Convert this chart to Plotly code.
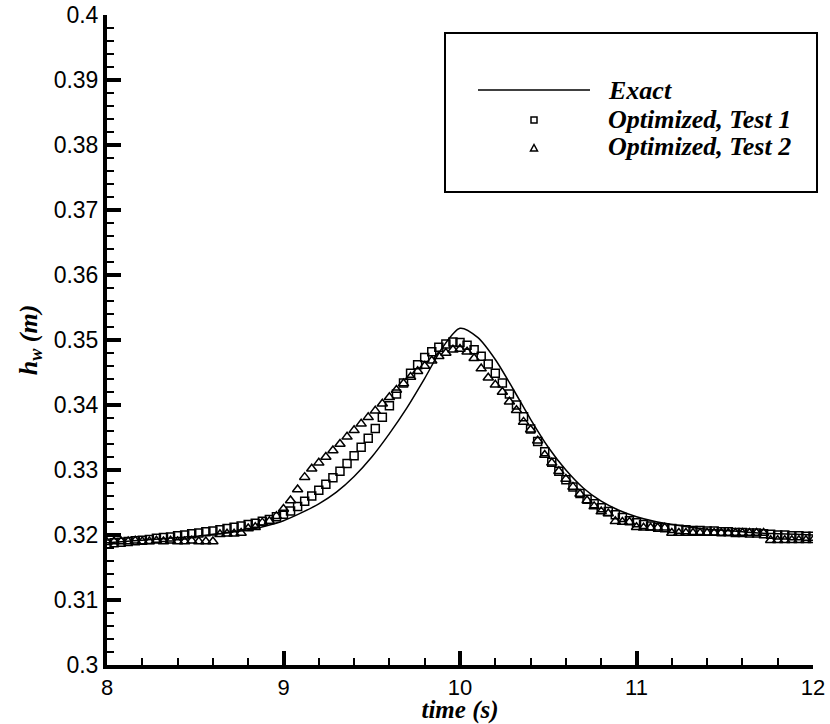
import plotly.graph_objects as go

# ---- data ----
exact_t = [8.0, 8.1, 8.2, 8.3, 8.4, 8.5, 8.6, 8.7, 8.8, 8.9,
           9.0, 9.1, 9.2, 9.3, 9.4, 9.5, 9.6, 9.7, 9.8, 9.9,
           10.0, 10.1, 10.2, 10.3, 10.4, 10.5, 10.6, 10.7, 10.8, 10.9,
           11.0, 11.1, 11.2, 11.3, 11.4, 11.5, 11.6, 11.7, 11.8, 11.9, 12.0]
exact_h = [0.3188, 0.3190, 0.3192, 0.3194, 0.3196, 0.3198, 0.3201, 0.3204, 0.3208, 0.3214,
           0.3222, 0.3234, 0.3248, 0.3266, 0.3290, 0.3320, 0.3356, 0.3396, 0.3441, 0.3488,
           0.3518, 0.3504, 0.3470, 0.3425, 0.3378, 0.3335, 0.3300, 0.3272, 0.3252, 0.3238,
           0.3228, 0.3221, 0.3216, 0.3212, 0.3209, 0.3207, 0.3205, 0.3203, 0.3202, 0.3201, 0.3200]

sample_t = [8.00, 8.04, 8.08, 8.12, 8.16, 8.20, 8.24, 8.28, 8.32, 8.36,
            8.40, 8.44, 8.48, 8.52, 8.56, 8.60, 8.64, 8.68, 8.72, 8.76,
            8.80, 8.84, 8.88, 8.92, 8.96, 9.00, 9.04, 9.08, 9.12, 9.16,
            9.20, 9.24, 9.28, 9.32, 9.36, 9.40, 9.44, 9.48, 9.52, 9.56,
            9.60, 9.64, 9.68, 9.72, 9.76, 9.80, 9.84, 9.88, 9.92, 9.96,
            10.00, 10.04, 10.08, 10.12, 10.16, 10.20, 10.24, 10.28, 10.32, 10.36,
            10.40, 10.44, 10.48, 10.52, 10.56, 10.60, 10.64, 10.68, 10.72, 10.76,
            10.80, 10.84, 10.88, 10.92, 10.96, 11.00, 11.04, 11.08, 11.12, 11.16,
            11.20, 11.24, 11.28, 11.32, 11.36, 11.40, 11.44, 11.48, 11.52, 11.56,
            11.60, 11.64, 11.68, 11.72, 11.76, 11.80, 11.84, 11.88, 11.92, 11.96, 12.00]

test1_h = [0.3186, 0.3188, 0.3189, 0.3190, 0.3191, 0.3192, 0.3193, 0.3195, 0.3196, 0.3197,
           0.3199, 0.3200, 0.3202, 0.3203, 0.3205, 0.3206, 0.3208, 0.3210, 0.3212, 0.3214,
           0.3216, 0.3218, 0.3221, 0.3224, 0.3228, 0.3232, 0.3237, 0.3244, 0.3252, 0.3260,
           0.3269, 0.3278, 0.3288, 0.3298, 0.3310, 0.3322, 0.3335, 0.3349, 0.3364, 0.3381,
           0.3399, 0.3417, 0.3434, 0.3449, 0.3462, 0.3473, 0.3482, 0.3489, 0.3494, 0.3497,
           0.3496, 0.3492, 0.3485, 0.3475, 0.3463, 0.3449, 0.3434, 0.3417, 0.3400, 0.3382,
           0.3363, 0.3344, 0.3328, 0.3312, 0.3298, 0.3285, 0.3274, 0.3264, 0.3255, 0.3248,
           0.3242, 0.3236, 0.3231, 0.3227, 0.3222, 0.3219, 0.3216, 0.3214, 0.3212, 0.3211,
           0.3210, 0.3209, 0.3208, 0.3207, 0.3207, 0.3206, 0.3206, 0.3205, 0.3205, 0.3204,
           0.3204, 0.3203, 0.3203, 0.3202, 0.3201, 0.3200, 0.3200, 0.3199, 0.3199, 0.3198, 0.3198]

test2_h = [0.3189, 0.3190, 0.3190, 0.3190, 0.3191, 0.3190, 0.3190, 0.3191, 0.3190, 0.3191,
           0.3190, 0.3190, 0.3191, 0.3190, 0.3190, 0.3190, 0.3201, 0.3202, 0.3202, 0.3203,
           0.3210, 0.3212, 0.3219, 0.3221, 0.3229, 0.3240, 0.3253, 0.3270, 0.3289, 0.3302,
           0.3311, 0.3320, 0.3330, 0.3340, 0.3351, 0.3361, 0.3371, 0.3381, 0.3391, 0.3402,
           0.3412, 0.3423, 0.3433, 0.3443, 0.3452, 0.3460, 0.3468, 0.3475, 0.3480, 0.3485,
           0.3486, 0.3482, 0.3472, 0.3456, 0.3442, 0.3431, 0.3420, 0.3405, 0.3392, 0.3374,
           0.3362, 0.3345, 0.3323, 0.3311, 0.3298, 0.3286, 0.3274, 0.3263, 0.3253, 0.3244,
           0.3236, 0.3233, 0.3221, 0.3220, 0.3220, 0.3212, 0.3211, 0.3211, 0.3211, 0.3211,
           0.3203, 0.3203, 0.3203, 0.3203, 0.3203, 0.3203, 0.3203, 0.3203, 0.3203, 0.3203,
           0.3203, 0.3203, 0.3203, 0.3203, 0.3192, 0.3192, 0.3192, 0.3192, 0.3192, 0.3192, 0.3192]

series_names = ["Exact", "Optimized, Test 1", "Optimized, Test 2"]
x_ticks = [8, 9, 10, 11, 12]
y_ticks = [0.3, 0.31, 0.32, 0.33, 0.34, 0.35, 0.36, 0.37, 0.38, 0.39, 0.4]

# ---- figure ----
W, H = 830, 724
ML, MR, MT, MB = 107, 17, 15, 59
SERIF = "Liberation Serif, Times New Roman, serif"
SANS = "Liberation Sans, Arial, Helvetica, sans-serif"

fig = go.Figure()
fig.add_trace(go.Scatter(x=exact_t, y=exact_h, mode="lines", name=series_names[0],
                         line=dict(color="black", width=1.5, shape="spline", smoothing=0.8),
                         showlegend=False))
fig.add_trace(go.Scatter(x=sample_t, y=test1_h, mode="markers", name=series_names[1],
                         marker=dict(symbol="square-open", size=8, color="black",
                                     line=dict(width=1.5, color="black")),
                         showlegend=False))
fig.add_trace(go.Scatter(x=sample_t, y=test2_h, mode="markers", name=series_names[2],
                         marker=dict(symbol="triangle-up-open", size=9, color="black",
                                     line=dict(width=1.5, color="black")),
                         showlegend=False))

axis_common = dict(
    showgrid=False, zeroline=False, showline=True, linecolor="black", linewidth=4,
    ticks="inside", ticklen=14, tickwidth=4, tickcolor="black", mirror=False,
    automargin=False, ticklabeloverflow="allow",
)

fig.update_xaxes(range=[8, 12], tickvals=x_ticks, **axis_common,
                 tickfont=dict(family=SANS, size=22, color="black"),
                 minor=dict(dtick=0.2, ticks="inside", ticklen=7, tickwidth=1.5, tickcolor="black"),
                 title=dict(text="<b><i>time (s)</i></b>", standoff=3,
                            font=dict(family=SERIF, size=25, color="black")))
fig.update_yaxes(range=[0.3, 0.4], tickvals=y_ticks, **axis_common,
                 tickfont=dict(family=SANS, size=23, color="black"),
                 minor=dict(dtick=0.002, ticks="inside", ticklen=7, tickwidth=1.5, tickcolor="black"),
                 title=dict(text="<b><i>h<sub>w</sub> (m)</i></b>", standoff=10,
                            font=dict(family=SERIF, size=26, color="black")))

# ---- custom legend box (positions given in page pixels, converted to paper) ----
pw, ph = W - ML - MR, H - MT - MB
def px2x(px):
    return (px - ML) / pw
def py2y(py):
    return (H - MB - py) / ph

shapes = [
    dict(type="rect", xref="paper", yref="paper", x0=px2x(445), x1=px2x(817),
         y0=py2y(192), y1=py2y(33), line=dict(color="black", width=2), fillcolor="white",
         layer="above"),
    dict(type="line", xref="paper", yref="paper", x0=px2x(478), x1=px2x(590),
         y0=py2y(90), y1=py2y(90), line=dict(color="black", width=1.5)),
    dict(type="rect", xref="paper", yref="paper", xsizemode="pixel", ysizemode="pixel",
         xanchor=px2x(534), yanchor=py2y(120), x0=-3, x1=3, y0=-3, y1=3,
         line=dict(color="black", width=1.5)),
    dict(type="path", xref="paper", yref="paper", xsizemode="pixel", ysizemode="pixel",
         xanchor=px2x(534), yanchor=py2y(148), path="M -3.5 -3 L 3.5 -3 L 0 3.5 Z",
         line=dict(color="black", width=1.5)),
]
annotations = []
for name, py in zip(series_names, [90, 119, 147]):
    annotations.append(dict(
        xref="paper", yref="paper", x=px2x(606), y=py2y(py), xanchor="left", yanchor="middle",
        text="<b><i>%s</i></b>" % name, showarrow=False,
        font=dict(family=SERIF, size=26, color="black")))

fig.update_layout(
    width=W, height=H, margin=dict(l=ML, r=MR, t=MT, b=MB, pad=0),
    paper_bgcolor="white", plot_bgcolor="white", showlegend=False,
    shapes=shapes, annotations=annotations,
)

# remove the browser's default 8 px body margin so the figure fills the window exactly
fig.write_html("out.html", config={"displayModeBar": False},
               post_script="document.body.style.margin='0';document.body.style.overflow='hidden';")
